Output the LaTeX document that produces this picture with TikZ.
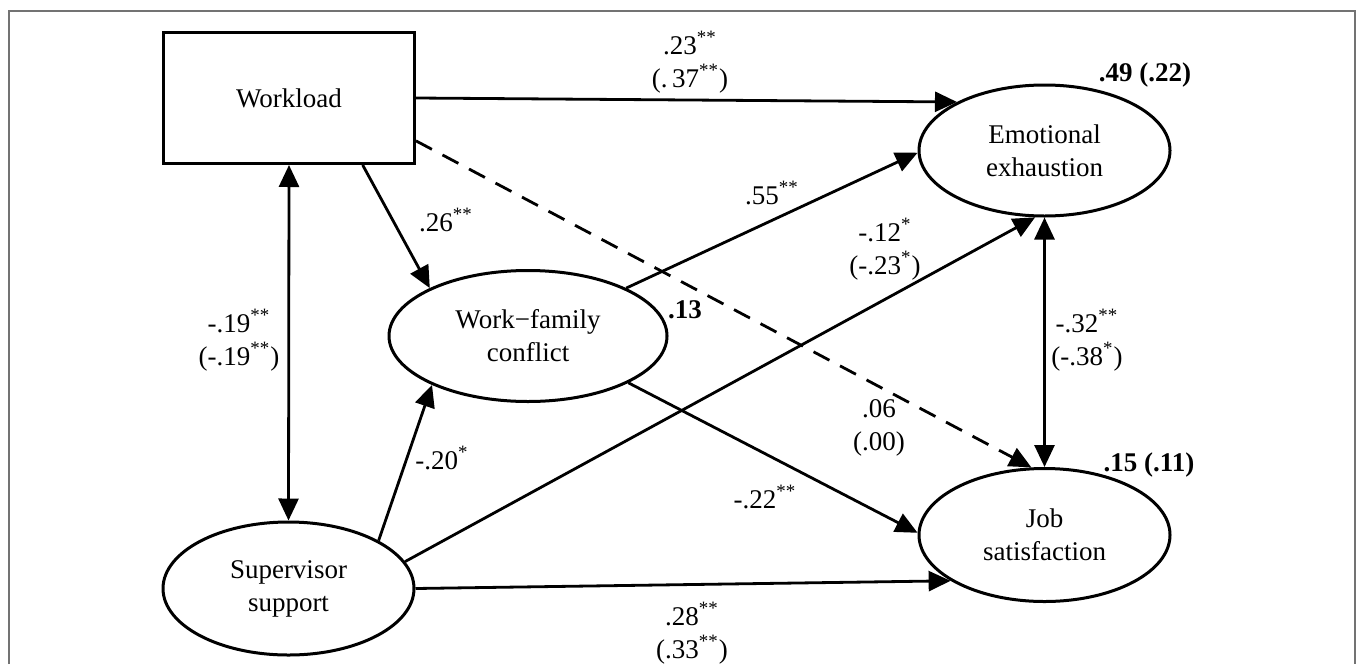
\documentclass[tikz,border=0pt]{standalone}
\usepackage{fontspec}
\setmainfont{Liberation Serif}
\usetikzlibrary{arrows.meta,shapes.geometric,calc}
\begin{document}
\begin{tikzpicture}[x=0.5pt,y=-0.5pt,
  every node/.style={font=\fontsize{13.5pt}{16.5pt}\selectfont},
  lat/.style={ellipse,draw,line width=1.5pt,inner sep=0pt,minimum width=125.5pt,minimum height=65.5pt,align=center},
  obs/.style={rectangle,draw,line width=1.5pt,inner sep=0pt,minimum width=125.5pt,minimum height=65.5pt},
  arr/.style={line width=1.4pt,-{Triangle[length=11pt,width=10pt]}},
  dbl/.style={line width=1.4pt,{Triangle[length=11pt,width=10pt]}-{Triangle[length=11pt,width=10pt]}},
  dsh/.style={arr,dash pattern=on 9pt off 6pt},
  lbl/.style={align=center,inner sep=0pt},
  rsq/.style={inner sep=0pt,font=\bfseries\fontsize{13.5pt}{16.5pt}\selectfont}
]
\useasboundingbox (0,0) rectangle (1358,664);
\draw[line width=1pt,color=black!55] (9,664) -- (9,11) -- (1355,11) -- (1355,664);

% nodes
\node[obs] (W) at (289,98) {Workload};
\node[lat] (EE) at (1044.5,150.5) {Emotional\\exhaustion};
\node[lat,minimum width=139pt] (WFC) at (528,336) {Work−family\\conflict};
\node[lat,minimum height=66.5pt] (SS) at (288.5,588.5) {Supervisor\\support};
\node[lat,minimum height=66.5pt] (JS) at (1044.5,535) {Job\\satisfaction};

% connectors
\draw[arr] (W.east) -- (EE.151);
\draw[arr] ($(W.south west)!0.79!(W.south east)$) -- (WFC.154);
\draw[dsh] ($(W.north east)!0.82!(W.south east)$) -- (JS.101);
\draw[dbl] (W.south) -- (SS.north);
\draw[arr] (WFC.26) -- (EE.181);
\draw[arr] (WFC.335) -- (JS.179);
\draw[arr] (SS.28) -- (WFC.207);
\draw[arr] (SS.13.6) -- (EE.262);
\draw[arr] (SS.east) -- (JS.206);
\draw[dbl] (EE.south) -- (JS.north);

% labels
\node[lbl] (l1) at (690,62) {.23\textsuperscript{**}\\(.\,37\textsuperscript{**})};
\node[rsq] (r1) at (1145,75) {.49 (.22)};
\node[lbl] (l2) at (446,220) {.26\textsuperscript{**}};
\node[lbl] (l3) at (772,193) {.55\textsuperscript{**}};
\node[lbl] (l4) at (885,249) {-.12\textsuperscript{*}\\(-.23\textsuperscript{*})};
\node[lbl] (l5) at (239,340) {-.19\textsuperscript{**}\\(-.19\textsuperscript{**})};
\node[rsq] (r2) at (685,310) {.13};
\node[lbl] (l6) at (1087,340) {-.32\textsuperscript{**}\\(-.38\textsuperscript{*})};
\node[lbl] (l7) at (879,428) {.06\\(.00)};
\node[rsq] (r3) at (1149,465) {.15 (.11)};
\node[lbl] (l8) at (442,458) {-.20\textsuperscript{*}};
\node[lbl] (l9) at (765,497) {-.22\textsuperscript{**}};
\node[lbl] (l10) at (692,633) {.28\textsuperscript{**}\\(.33\textsuperscript{**})};
\end{tikzpicture}
\end{document}
